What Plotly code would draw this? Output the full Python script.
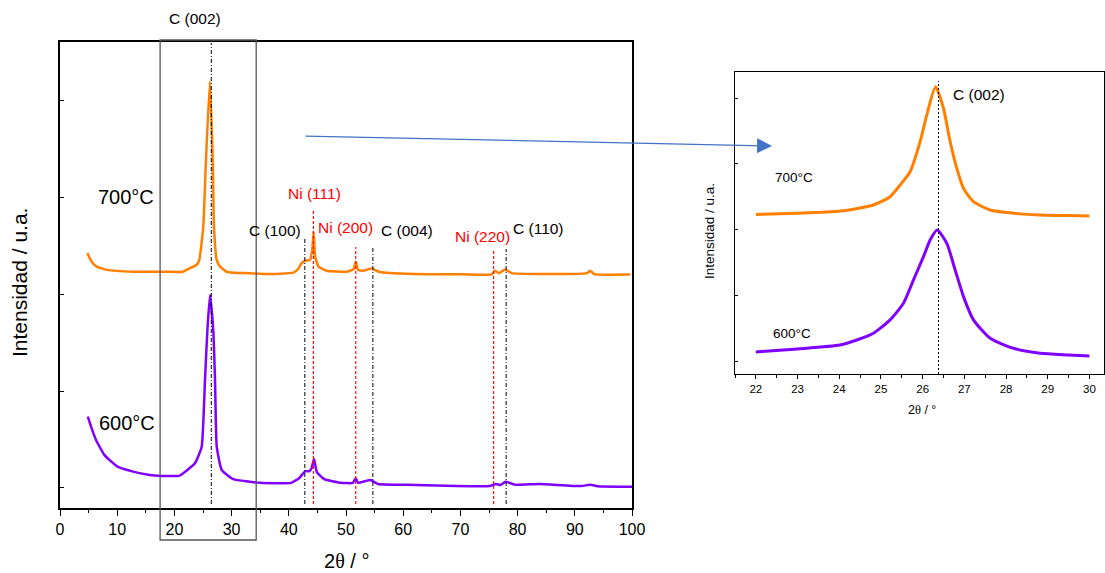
import plotly.graph_objects as go

W, H = 1105, 573

# ---------------- data ----------------
# Main pattern, 700 °C sample (2θ in degrees, intensity in a.u. incl. offset)
tt_700 = [4.78, 5.5, 6.4, 8.2, 12.8, 18.6, 21.5, 22.1, 23.9, 24.35, 25.05, 25.52,
          26.2, 26.7, 26.92, 27.4, 28.0, 29.1, 30.3, 33.2, 36.1, 40.8, 41.7, 42.2,
          43.0, 43.7, 44.1, 44.35, 44.6, 45.2, 46.6, 50.1, 51.3, 51.7, 52.1, 53.0,
          54.5, 55.7, 61.8, 70.5, 75.5, 76.0, 76.8, 77.8, 79.0, 88.0, 92.1, 92.7,
          93.4, 99.7]
i_700 = [54.7, 52.9, 51.8, 51.1, 50.7, 50.7, 50.7, 51.1, 52.2, 53.2, 60.4, 74.7,
         91.5, 74.7, 60.4, 53.2, 51.8, 50.7, 50.5, 50.4, 50.2, 50.5, 51.4, 52.5,
         53.1, 53.2, 55.4, 59.3, 53.9, 51.8, 50.9, 50.7, 51.2, 52.85, 51.1, 50.9,
         51.4, 50.7, 50.2, 50.15, 50.15, 50.9, 50.4, 51.2, 50.4, 50.2, 50.4, 50.9,
         50.2, 50.1]

# Main pattern, 600 °C sample
tt_600 = [4.86, 5.5, 6.3, 7.75, 9.9, 12.8, 15.7, 17.2, 20.8, 21.55, 23.6, 24.77,
          25.35, 25.76, 26.22, 26.8, 27.1, 27.4, 28.27, 30.3, 35.0, 40.4, 41.8,
          42.9, 43.6, 44.0, 44.4, 44.9, 46.2, 49.1, 51.2, 51.7, 52.1, 53.4, 54.3,
          55.6, 62.1, 69.3, 75.1, 76.2, 77.0, 77.9, 79.5, 83.8, 91.1, 92.7, 94.0,
          100.0]
i_600 = [19.6, 17.2, 14.6, 11.4, 9.0, 7.8, 7.1, 6.9, 6.9, 7.45, 9.6, 13.15,
         27.5, 38.0, 45.7, 38.0, 27.5, 13.15, 8.15, 6.2, 5.4, 5.4, 6.4,
         7.9, 7.9, 8.6, 10.5, 7.7, 6.2, 5.4, 5.4, 6.4, 5.4, 5.8, 6.0,
         5.15, 4.95, 4.7, 4.7, 5.15, 4.95, 5.65, 5.0, 5.15, 4.7, 5.0, 4.65,
         4.55]

# Inset: zoom on the C (002) reflection
tt_700_in = [22.0, 23.0, 24.02, 24.82, 25.22, 25.46, 25.70, 25.94, 26.10, 26.31,
             26.50, 26.66, 26.82, 26.98, 27.22, 27.62, 28.18, 28.82, 29.5, 30.0]
i_700_in = [52.8, 53.2, 53.9, 55.9, 58.65, 62.5, 66.9, 76.85, 85.7, 95.0,
            87.9, 76.85, 68.0, 61.4, 57.0, 54.25, 53.2, 52.6, 52.4, 52.3]
tt_600_in = [22.0, 23.0, 24.02, 24.42, 24.82, 25.22, 25.54, 25.78, 26.02, 26.18,
             26.35, 26.58, 26.78, 26.98, 27.22, 27.62, 28.18, 28.82, 29.5, 30.0]
i_600_in = [7.3, 8.3, 9.6, 11.25, 13.5, 17.9, 23.4, 31.1, 38.8, 44.3,
            47.6, 43.2, 34.4, 25.6, 17.9, 11.8, 8.5, 6.85, 6.3, 5.95]

# Reference reflections
carbon_pos = [26.45, 42.8, 54.7, 78.0]
carbon_lbl = ["C (002)", "C (100)", "C (004)", "C (110)"]
nickel_pos = [44.3, 51.7, 75.8]
nickel_lbl = ["Ni (111)", "Ni (200)", "Ni (220)"]
inset_ref_pos = 26.38
inset_ref_lbl = "C (002)"

sample_lbl = ["700°C", "600°C"]
x_ticks_main = list(range(0, 101, 10))
x_ticks_inset = list(range(22, 31))
zoom_window = [17.5, 34.3]

# ---------------- styling / layout ----------------
FONT = "Liberation Sans, Arial, sans-serif"
ORANGE = "#FF8000"
PURPLE = "#8000FF"


def px(x):
    return x / W


def py(y):
    return 1 - y / H


def label(text, x, y, size, color="black", angle=0):
    return dict(text=text, x=px(x), y=py(y), xref="paper", yref="paper",
                showarrow=False, xanchor="center", yanchor="middle", textangle=angle,
                font=dict(family=FONT, size=size, color=color))


fig = go.Figure()
fig.add_trace(go.Scatter(x=tt_700, y=i_700, mode="lines",
                         line=dict(color=ORANGE, width=2.5, shape="spline", smoothing=0.4),
                         xaxis="x", yaxis="y"))
fig.add_trace(go.Scatter(x=tt_600, y=i_600, mode="lines",
                         line=dict(color=PURPLE, width=2.5, shape="spline", smoothing=0.4),
                         xaxis="x", yaxis="y"))
fig.add_trace(go.Scatter(x=tt_700_in, y=i_700_in, mode="lines",
                         line=dict(color=ORANGE, width=3, shape="spline", smoothing=0.6),
                         xaxis="x2", yaxis="y2"))
fig.add_trace(go.Scatter(x=tt_600_in, y=i_600_in, mode="lines",
                         line=dict(color=PURPLE, width=3, shape="spline", smoothing=0.6),
                         xaxis="x2", yaxis="y2"))

shapes = []
annotations = []

# zoom window rectangle
shapes.append(dict(type="rect", xref="x", yref="paper",
                   x0=zoom_window[0], x1=zoom_window[1], y0=py(540), y1=py(40),
                   line=dict(color="#555555", width=1.3), layer="above"))

# reference lines + labels in the main chart
c_tops = [43, 238, 246, 249]
c_lbl_xy = [(195, 18), (275, 231), (407, 231), (538, 229)]
for p, lbl, top, (lx, ly) in zip(carbon_pos, carbon_lbl, c_tops, c_lbl_xy):
    shapes.append(dict(type="line", xref="x", yref="paper", x0=p, x1=p,
                       y0=py(504), y1=py(top),
                       line=dict(color="black", width=1, dash="4px,2px,1px,2px")))
    annotations.append(label(lbl, lx, ly, 15.5))

ni_tops = [209, 247, 251]
ni_lbl_xy = [(314, 193), (345, 227), (482, 236)]
for p, lbl, top, (lx, ly) in zip(nickel_pos, nickel_lbl, ni_tops, ni_lbl_xy):
    shapes.append(dict(type="line", xref="x", yref="paper", x0=p, x1=p,
                       y0=py(504), y1=py(top),
                       line=dict(color="#FF1010", width=1.2, dash="3px,2px")))
    annotations.append(label(lbl, lx, ly, 15.5, "#FF0000"))

# inset reference line
shapes.append(dict(type="line", xref="x2", yref="paper", x0=inset_ref_pos, x1=inset_ref_pos,
                   y0=py(374), y1=py(81),
                   line=dict(color="black", width=1, dash="2px,2px")))
annotations.append(label(inset_ref_lbl, 979, 95, 15.5))

# sample labels
for lbl, (lx, ly) in zip(sample_lbl, [(126, 197), (127, 423)]):
    annotations.append(label(lbl, lx, ly, 20))
for lbl, (lx, ly) in zip(sample_lbl, [(794, 178), (792, 333)]):
    annotations.append(label(lbl, lx, ly, 13.5))

theta = "2<span style='font-family:Liberation Serif, serif'>θ</span> / °"
# axis titles
annotations += [
    label("Intensidad / u.a.", 20, 283, 21, angle=-90),
    label(theta, 346, 561, 20),
    label("Intensidad / u.a.", 710, 231, 13.5, angle=-90),
    label(theta, 922, 410, 12.5),
]

# arrow from main chart to inset
annotations.append(dict(x=px(772), y=py(146), xref="paper", yref="paper",
                        ax=304 - 772, ay=136 - 146, axref="pixel", ayref="pixel",
                        showarrow=True, arrowhead=2, arrowsize=2.3, arrowwidth=1.3,
                        arrowcolor="#4472C4", text=""))

axis_common = dict(showgrid=False, zeroline=False, showline=True, linecolor="black",
                   mirror=True, tickcolor="black", automargin=False)

fig.update_layout(
    width=W, height=H, autosize=False, margin=dict(l=0, r=0, t=0, b=0, pad=0, autoexpand=False),
    paper_bgcolor="white", plot_bgcolor="white", showlegend=False,
    font=dict(family=FONT, color="black"),
    xaxis=dict(**axis_common, domain=[px(60), px(632)], range=[0, 100],
               tickvals=x_ticks_main, ticks="outside", ticklen=6, tickwidth=1.3,
               linewidth=1.6, tickfont=dict(size=16, family=FONT),
               minor=dict(dtick=5, ticklen=3, ticks="outside", tickcolor="black"),
               anchor="y"),
    yaxis=dict(**axis_common, domain=[py(508), py(42)], range=[0, 100],
               ticks="inside", tick0=4.3, dtick=20.8, ticklen=4, tickwidth=1,
               linewidth=1.6, showticklabels=False, anchor="x"),
    xaxis2=dict(**axis_common, domain=[px(735), px(1104)], range=[21.5, 30.35],
                tickvals=x_ticks_inset, ticks="outside", ticklen=4, tickwidth=1,
                linewidth=1.2, tickfont=dict(size=11.5, family=FONT),
                minor=dict(dtick=0.5, ticklen=2.5, ticks="outside", tickcolor="black"),
                anchor="y2"),
    yaxis2=dict(**axis_common, domain=[py(374), py(71.7)], range=[0, 100],
                ticks="inside", tick0=4.3, dtick=21.75, ticklen=3, tickwidth=1,
                linewidth=1.2, showticklabels=False, anchor="x2"),
    shapes=shapes, annotations=annotations,
)

fig.write_html("out.html", config={"responsive": False})
